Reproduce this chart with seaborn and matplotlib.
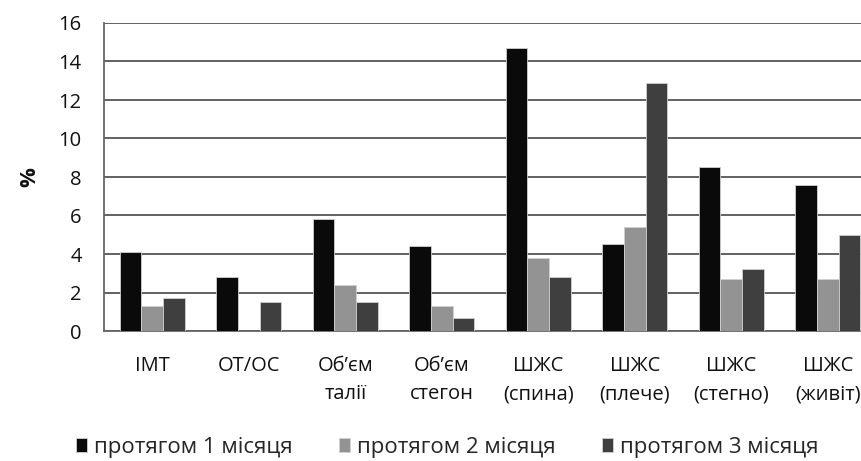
import numpy as np
import pandas as pd
import seaborn as sns
import matplotlib.pyplot as plt

categories = ["ІМТ", "ОТ/ОС", "Об’єм\nталії", "Об’єм\nстегон",
              "ШЖС\n(спина)", "ШЖС\n(плече)", "ШЖС\n(стегно)", "ШЖС\n(живіт)"]
series = ["протягом 1 місяця", "протягом 2 місяця", "протягом 3 місяця"]
month1 = [4.1, 2.8, 5.8, 4.4, 14.7, 4.5, 8.5, 7.6]
month2 = [1.3, 0.0, 2.4, 1.3, 3.8, 5.4, 2.7, 2.7]
month3 = [1.7, 1.5, 1.5, 0.7, 2.8, 12.9, 3.2, 5.0]
yticks = [0, 2, 4, 6, 8, 10, 12, 14, 16]
colors = ["#0a0a0a", "#939393", "#3f3f3f"]

df = pd.DataFrame({
    "category": categories * 3,
    "series": np.repeat(series, len(categories)),
    "value": month1 + month2 + month3,
})

sns.set_theme(style="white")
plt.rcParams["font.family"] = ["Open Sans", "DejaVu Sans"]

fig = plt.figure(figsize=(8.62, 4.61), dpi=100)
ax = fig.add_axes([104 / 862, 1 - 331 / 461, 772 / 862, 308 / 461])

sns.barplot(data=df, x="category", y="value", hue="series", order=categories,
            hue_order=series, palette=colors, width=0.67, ax=ax,
            edgecolor="#d0d0d0", linewidth=0.6, zorder=3)

ax.set_ylim(0, 16)
ax.set_yticks(yticks)
ax.set_xlim(-0.5, len(categories) - 0.5)
ax.yaxis.grid(True, color="#555555", linewidth=1.3, zorder=0)
ax.set_axisbelow(True)
for s in ["top", "right"]:
    ax.spines[s].set_visible(False)
ax.spines["left"].set_color("#666666")
ax.spines["left"].set_linewidth(1.3)
ax.spines["bottom"].set_color("#666666")
ax.spines["bottom"].set_linewidth(1.3)
ax.tick_params(axis="both", length=0, labelsize=14.5, colors="#111111")
ax.tick_params(axis="y", pad=16)
ax.tick_params(axis="x", pad=18)
for t in ax.get_xticklabels():
    t.set_linespacing(1.55)
ax.set_xlabel("")
ax.set_ylabel("%", fontsize=16, labelpad=13, color="#111111", fontweight="bold")

ax.legend(loc="center", bbox_to_anchor=(0.519, 0.03), bbox_transform=fig.transFigure,
          ncol=3, frameon=False, fontsize=16,
          handlelength=0.5, handleheight=0.55, handletextpad=0.3, columnspacing=2.1)

fig.savefig("out.png", dpi=100)
